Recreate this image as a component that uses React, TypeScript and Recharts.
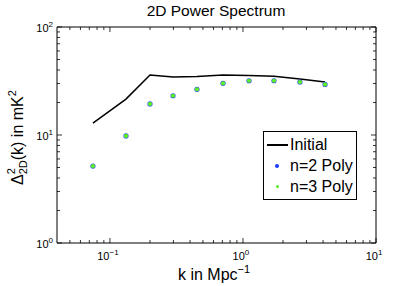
import React from 'react';
import { ComposedChart, Line, Scatter, XAxis, YAxis, ReferenceArea } from 'recharts';

const kValues = [0.0745, 0.132, 0.2, 0.298, 0.451, 0.708, 1.11, 1.71, 2.68, 4.14];
const initialPower = [12.9, 21.5, 35.9, 34.4, 34.8, 35.9, 35.6, 35, 33, 31];
const poly2Power = [5.16, 9.8, 19.4, 23.1, 26.5, 30.1, 31.8, 31.8, 30.9, 29.4];
const poly3Power = [5.16, 9.8, 19.4, 23.1, 26.5, 30.1, 31.8, 31.8, 30.9, 29.4];

const xTicks = [0.05, 0.06, 0.07, 0.08, 0.09, 0.1, 0.2, 0.3, 0.4, 0.5, 0.6, 0.7, 0.8, 0.9, 1, 2, 3, 4, 5, 6, 7, 8, 9, 10];
const yTicks = [1, 2, 3, 4, 5, 6, 7, 8, 9, 10, 20, 30, 40, 50, 60, 70, 80, 90, 100];
const xMajor: Record<number, string> = { 0.1: '-1', 1: '0', 10: '1' };
const yMajor: Record<number, string> = { 1: '0', 10: '1', 100: '2' };

const rows = kValues.map((k, i) => ({
	k,
	initial: initialPower[i],
	poly2: poly2Power[i],
	poly3: poly3Power[i],
}));

const W = 415;
const H = 286;
// plot box: x 57..376, y 27..243
const AXIS_W = 40;
const AXIS_H = 30;
const M = { top: 27, right: 39, bottom: 43 - AXIS_H, left: 57 - AXIS_W };
const plotW = 376 - 57;
const plotH = 243 - 27;
const font = '"Liberation Sans", Arial, sans-serif';

function XTick({ x, y, payload }: any) {
	const v = payload.value;
	const exp = xMajor[v];
	const len = exp !== undefined ? 5 : 3;
	return (
		<g>
			<line x1={x} y1={y} x2={x} y2={y - len} stroke='#000' strokeWidth={0.8} />
			<line x1={x} y1={y - plotH} x2={x} y2={y - plotH + len} stroke='#000' strokeWidth={0.8} />
			{exp !== undefined && (
				<text x={x - 2} y={y + 17} textAnchor='middle' fontFamily={font} fontSize={11} fill='#000'>
					10
					<tspan dy={-5} fontSize={8}>
						{exp.replace('-', '\u2212')}
					</tspan>
				</text>
			)}
		</g>
	);
}

function YTick({ x, y, payload }: any) {
	const v = payload.value;
	const exp = yMajor[v];
	const len = exp !== undefined ? 5 : 3;
	return (
		<g>
			<line x1={x} y1={y} x2={x + len} y2={y} stroke='#000' strokeWidth={0.8} />
			<line x1={x + plotW} y1={y} x2={x + plotW - len} y2={y} stroke='#000' strokeWidth={0.8} />
			{exp !== undefined && (
				<text x={x - 4} y={y + 5} textAnchor='end' fontFamily={font} fontSize={11} fill='#000'>
					10
					<tspan dy={-5} fontSize={8}>
						{exp}
					</tspan>
				</text>
			)}
		</g>
	);
}

const blueDot = (p: any) => <circle cx={p.cx} cy={p.cy} r={2.6} fill='#2a4cf0' />;
const greenDot = (p: any) => <circle cx={p.cx} cy={p.cy} r={2.1} fill='#5ef02a' />;

function LegendBox() {
	const row = { display: 'flex', alignItems: 'center', height: 21 } as const;
	return (
		<div
			style={{
				position: 'absolute',
				left: 263,
				top: 131,
				border: '1px solid #000',
				background: '#fff',
				width: 92,
				padding: '2px 0',
				fontFamily: font,
				fontSize: 16,
				color: '#000',
			}}
		>
			<div style={row}>
				<div style={{ width: 21, height: 2, background: '#000', marginLeft: 3, marginRight: 2 }} />
				<span>Initial</span>
			</div>
			<div style={row}>
				<div style={{ width: 26, display: 'flex', justifyContent: 'center' }}>
					<div style={{ width: 4, height: 4, borderRadius: 2, background: '#1a3cff' }} />
				</div>
				<span>n=2 Poly</span>
			</div>
			<div style={row}>
				<div style={{ width: 26, display: 'flex', justifyContent: 'center' }}>
					<div style={{ width: 3, height: 3, borderRadius: 2, background: '#55ee22' }} />
				</div>
				<span>n=3 Poly</span>
			</div>
		</div>
	);
}

function Labels() {
	return (
		<svg
			width={W}
			height={H}
			style={{ position: 'absolute', left: 0, top: 0, pointerEvents: 'none' }}
			fontFamily={font}
			fill='#000'
		>
			<text x={216} y={16} textAnchor='middle' fontSize={15.5}>
				2D Power Spectrum
			</text>
			<text x={178} y={280} fontSize={16}>
				k in Mpc
				<tspan dy={-7} fontSize={11}>
					{'\u2212'}1
				</tspan>
			</text>
			<g transform='translate(23, 185) rotate(-90)'>
				<text x={0} y={0} fontSize={16}>
					{'\u0394'}
					<tspan dy={-8} fontSize={11}>
						2
					</tspan>
					<tspan dx={-6.1} dy={12} fontSize={11}>
						2D
					</tspan>
					<tspan dy={-4} fontSize={16}>
						(k) in mK
					</tspan>
					<tspan dy={-7} fontSize={11}>
						2
					</tspan>
				</text>
			</g>
		</svg>
	);
}

export default function App() {
	return (
		<div style={{ position: 'absolute', left: 0, top: 0, width: W, height: H, background: '#fff' }}>
			<ComposedChart width={W} height={H} data={rows} margin={M}>
				<XAxis
					type='number'
					dataKey='k'
					scale='log'
					domain={[0.04, 10]}
					allowDataOverflow
					ticks={xTicks}
					interval={0}
					height={AXIS_H}
					tickSize={0}
					tickMargin={0}
					tick={(p: any) => <XTick {...p} />}
					axisLine={false}
				/>
				<YAxis
					type='number'
					scale='log'
					domain={[1, 100]}
					allowDataOverflow
					ticks={yTicks}
					interval={0}
					width={AXIS_W}
					tickSize={0}
					tickMargin={0}
					tick={(p: any) => <YTick {...p} />}
					axisLine={false}
				/>
				<ReferenceArea x1={0.04} x2={10} y1={1} y2={100} fill='none' stroke='#000' strokeWidth={1} />
				<Line dataKey='initial' stroke='#000' strokeWidth={1.5} dot={false} isAnimationActive={false} />
				<Scatter dataKey='poly2' shape={blueDot} isAnimationActive={false} />
				<Scatter dataKey='poly3' shape={greenDot} isAnimationActive={false} />
			</ComposedChart>
			<Labels />
			<LegendBox />
		</div>
	);
}
